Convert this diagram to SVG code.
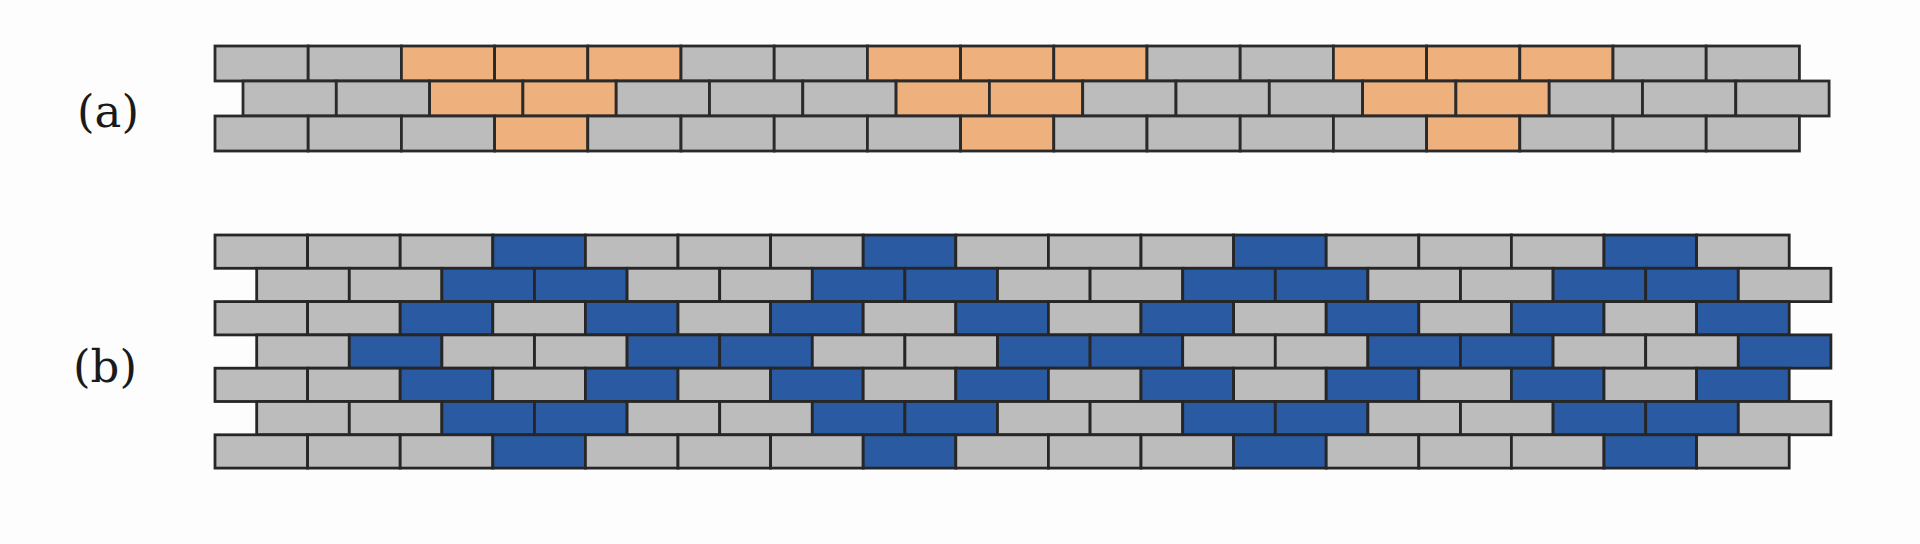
<svg xmlns="http://www.w3.org/2000/svg" width="1920" height="544" viewBox="0 0 1920 544">
<style>
rect.a{height:35px;width:93.2px;stroke:#2a2a2a;stroke-width:2.8}
rect.a1{height:35px;width:93.3px;stroke:#2a2a2a;stroke-width:2.8}
rect.b{height:33.3px;width:92.6px;stroke:#262626;stroke-width:2.8}
.g{fill:#bcbcbc}
.o{fill:#eeb07c}
.u{fill:#2a5aa2}
text{font-family:"DejaVu Serif","Liberation Serif",serif;font-size:45px;fill:#1a1a1a;text-anchor:middle}
</style>
<rect width="1920" height="544" fill="#fdfdfd"/>
<g id="label-a"><text x="108" y="127">(a)</text></g>
<g id="label-b"><text x="105" y="382">(b)</text></g>
<g id="panel-a">
<g id="a-row0">
<rect class="a g" x="215" y="46"/><rect class="a g" x="308.2" y="46"/><rect class="a o" x="401.4" y="46"/><rect class="a o" x="494.6" y="46"/><rect class="a o" x="587.8" y="46"/><rect class="a g" x="681" y="46"/><rect class="a g" x="774.2" y="46"/><rect class="a o" x="867.4" y="46"/><rect class="a o" x="960.6" y="46"/><rect class="a o" x="1053.8" y="46"/><rect class="a g" x="1147" y="46"/><rect class="a g" x="1240.2" y="46"/><rect class="a o" x="1333.4" y="46"/><rect class="a o" x="1426.6" y="46"/><rect class="a o" x="1519.8" y="46"/><rect class="a g" x="1613" y="46"/><rect class="a g" x="1706.2" y="46"/>
</g>
<g id="a-row1">
<rect class="a1 g" x="243" y="81"/><rect class="a1 g" x="336.3" y="81"/><rect class="a1 o" x="429.6" y="81"/><rect class="a1 o" x="522.9" y="81"/><rect class="a1 g" x="616.2" y="81"/><rect class="a1 g" x="709.5" y="81"/><rect class="a1 g" x="802.8" y="81"/><rect class="a1 o" x="896.1" y="81"/><rect class="a1 o" x="989.4" y="81"/><rect class="a1 g" x="1082.7" y="81"/><rect class="a1 g" x="1176" y="81"/><rect class="a1 g" x="1269.3" y="81"/><rect class="a1 o" x="1362.6" y="81"/><rect class="a1 o" x="1455.9" y="81"/><rect class="a1 g" x="1549.2" y="81"/><rect class="a1 g" x="1642.5" y="81"/><rect class="a1 g" x="1735.8" y="81"/>
</g>
<g id="a-row2">
<rect class="a g" x="215" y="116"/><rect class="a g" x="308.2" y="116"/><rect class="a g" x="401.4" y="116"/><rect class="a o" x="494.6" y="116"/><rect class="a g" x="587.8" y="116"/><rect class="a g" x="681" y="116"/><rect class="a g" x="774.2" y="116"/><rect class="a g" x="867.4" y="116"/><rect class="a o" x="960.6" y="116"/><rect class="a g" x="1053.8" y="116"/><rect class="a g" x="1147" y="116"/><rect class="a g" x="1240.2" y="116"/><rect class="a g" x="1333.4" y="116"/><rect class="a o" x="1426.6" y="116"/><rect class="a g" x="1519.8" y="116"/><rect class="a g" x="1613" y="116"/><rect class="a g" x="1706.2" y="116"/>
</g>
</g>
<g id="panel-b">
<g id="b-row0">
<rect class="b g" x="215" y="235"/><rect class="b g" x="307.6" y="235"/><rect class="b g" x="400.2" y="235"/><rect class="b u" x="492.8" y="235"/><rect class="b g" x="585.4" y="235"/><rect class="b g" x="678" y="235"/><rect class="b g" x="770.6" y="235"/><rect class="b u" x="863.2" y="235"/><rect class="b g" x="955.8" y="235"/><rect class="b g" x="1048.4" y="235"/><rect class="b g" x="1141" y="235"/><rect class="b u" x="1233.6" y="235"/><rect class="b g" x="1326.2" y="235"/><rect class="b g" x="1418.8" y="235"/><rect class="b g" x="1511.4" y="235"/><rect class="b u" x="1604" y="235"/><rect class="b g" x="1696.6" y="235"/>
</g>
<g id="b-row1">
<rect class="b g" x="256.7" y="268.3"/><rect class="b g" x="349.3" y="268.3"/><rect class="b u" x="441.9" y="268.3"/><rect class="b u" x="534.5" y="268.3"/><rect class="b g" x="627.1" y="268.3"/><rect class="b g" x="719.7" y="268.3"/><rect class="b u" x="812.3" y="268.3"/><rect class="b u" x="904.9" y="268.3"/><rect class="b g" x="997.5" y="268.3"/><rect class="b g" x="1090.1" y="268.3"/><rect class="b u" x="1182.7" y="268.3"/><rect class="b u" x="1275.3" y="268.3"/><rect class="b g" x="1367.9" y="268.3"/><rect class="b g" x="1460.5" y="268.3"/><rect class="b u" x="1553.1" y="268.3"/><rect class="b u" x="1645.7" y="268.3"/><rect class="b g" x="1738.3" y="268.3"/>
</g>
<g id="b-row2">
<rect class="b g" x="215" y="301.6"/><rect class="b g" x="307.6" y="301.6"/><rect class="b u" x="400.2" y="301.6"/><rect class="b g" x="492.8" y="301.6"/><rect class="b u" x="585.4" y="301.6"/><rect class="b g" x="678" y="301.6"/><rect class="b u" x="770.6" y="301.6"/><rect class="b g" x="863.2" y="301.6"/><rect class="b u" x="955.8" y="301.6"/><rect class="b g" x="1048.4" y="301.6"/><rect class="b u" x="1141" y="301.6"/><rect class="b g" x="1233.6" y="301.6"/><rect class="b u" x="1326.2" y="301.6"/><rect class="b g" x="1418.8" y="301.6"/><rect class="b u" x="1511.4" y="301.6"/><rect class="b g" x="1604" y="301.6"/><rect class="b u" x="1696.6" y="301.6"/>
</g>
<g id="b-row3">
<rect class="b g" x="256.7" y="334.9"/><rect class="b u" x="349.3" y="334.9"/><rect class="b g" x="441.9" y="334.9"/><rect class="b g" x="534.5" y="334.9"/><rect class="b u" x="627.1" y="334.9"/><rect class="b u" x="719.7" y="334.9"/><rect class="b g" x="812.3" y="334.9"/><rect class="b g" x="904.9" y="334.9"/><rect class="b u" x="997.5" y="334.9"/><rect class="b u" x="1090.1" y="334.9"/><rect class="b g" x="1182.7" y="334.9"/><rect class="b g" x="1275.3" y="334.9"/><rect class="b u" x="1367.9" y="334.9"/><rect class="b u" x="1460.5" y="334.9"/><rect class="b g" x="1553.1" y="334.9"/><rect class="b g" x="1645.7" y="334.9"/><rect class="b u" x="1738.3" y="334.9"/>
</g>
<g id="b-row4">
<rect class="b g" x="215" y="368.2"/><rect class="b g" x="307.6" y="368.2"/><rect class="b u" x="400.2" y="368.2"/><rect class="b g" x="492.8" y="368.2"/><rect class="b u" x="585.4" y="368.2"/><rect class="b g" x="678" y="368.2"/><rect class="b u" x="770.6" y="368.2"/><rect class="b g" x="863.2" y="368.2"/><rect class="b u" x="955.8" y="368.2"/><rect class="b g" x="1048.4" y="368.2"/><rect class="b u" x="1141" y="368.2"/><rect class="b g" x="1233.6" y="368.2"/><rect class="b u" x="1326.2" y="368.2"/><rect class="b g" x="1418.8" y="368.2"/><rect class="b u" x="1511.4" y="368.2"/><rect class="b g" x="1604" y="368.2"/><rect class="b u" x="1696.6" y="368.2"/>
</g>
<g id="b-row5">
<rect class="b g" x="256.7" y="401.5"/><rect class="b g" x="349.3" y="401.5"/><rect class="b u" x="441.9" y="401.5"/><rect class="b u" x="534.5" y="401.5"/><rect class="b g" x="627.1" y="401.5"/><rect class="b g" x="719.7" y="401.5"/><rect class="b u" x="812.3" y="401.5"/><rect class="b u" x="904.9" y="401.5"/><rect class="b g" x="997.5" y="401.5"/><rect class="b g" x="1090.1" y="401.5"/><rect class="b u" x="1182.7" y="401.5"/><rect class="b u" x="1275.3" y="401.5"/><rect class="b g" x="1367.9" y="401.5"/><rect class="b g" x="1460.5" y="401.5"/><rect class="b u" x="1553.1" y="401.5"/><rect class="b u" x="1645.7" y="401.5"/><rect class="b g" x="1738.3" y="401.5"/>
</g>
<g id="b-row6">
<rect class="b g" x="215" y="434.8"/><rect class="b g" x="307.6" y="434.8"/><rect class="b g" x="400.2" y="434.8"/><rect class="b u" x="492.8" y="434.8"/><rect class="b g" x="585.4" y="434.8"/><rect class="b g" x="678" y="434.8"/><rect class="b g" x="770.6" y="434.8"/><rect class="b u" x="863.2" y="434.8"/><rect class="b g" x="955.8" y="434.8"/><rect class="b g" x="1048.4" y="434.8"/><rect class="b g" x="1141" y="434.8"/><rect class="b u" x="1233.6" y="434.8"/><rect class="b g" x="1326.2" y="434.8"/><rect class="b g" x="1418.8" y="434.8"/><rect class="b g" x="1511.4" y="434.8"/><rect class="b u" x="1604" y="434.8"/><rect class="b g" x="1696.6" y="434.8"/>
</g>
</g>
</svg>
